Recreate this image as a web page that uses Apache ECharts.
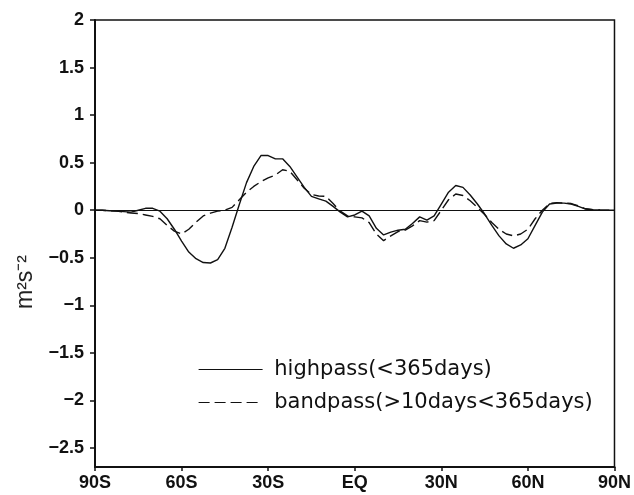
<!DOCTYPE html>
<html>
<head>
<meta charset="utf-8">
<script src="https://cdn.jsdelivr.net/npm/echarts@6/dist/echarts.min.js"></script>
<style>
  html, body { margin: 0; padding: 0; background: #fff; }
  #chart { width: 634px; height: 495px; }
</style>
</head>
<body>
<div id="chart"></div>
<script>
/* ── Data ── */
var lats = [-90,-87.5,-85,-82.5,-80,-77.5,-75,-72.5,-70,-67.5,-65,-62.5,-60,-57.5,-55,-52.5,-50,-47.5,-45,-42.5,
  -40,-37.5,-35,-32.5,-30,-27.5,-25,-22.5,-20,-17.5,-15,-12.5,-10,-7.5,-5,-2.5,0,2.5,5,7.5,10,12.5,15,17.5,20,
  22.5,25,27.5,30,32.5,35,37.5,40,42.5,45,47.5,50,52.5,55,57.5,60,62.5,65,67.5,70,72.5,75,77.5,80,82.5,85,87.5,90];

var highpass = [0,0,-0.005,-0.01,-0.015,-0.02,0,0.02,0.02,-0.01,-0.09,-0.2,-0.325,-0.44,-0.51,-0.55,-0.555,-0.52,-0.4,-0.18,
  0.06,0.29,0.46,0.575,0.575,0.54,0.54,0.46,0.35,0.24,0.145,0.12,0.095,0.04,-0.02,-0.07,-0.05,-0.01,-0.06,-0.19,-0.26,
  -0.23,-0.21,-0.2,-0.14,-0.07,-0.105,-0.06,0.065,0.19,0.26,0.24,0.16,0.065,-0.04,-0.16,-0.27,-0.355,-0.4,-0.365,-0.3,
  -0.16,-0.02,0.065,0.075,0.075,0.065,0.04,0.012,0.005,0.002,0,0];

var bandpass = [0,0,-0.005,-0.01,-0.02,-0.03,-0.035,-0.05,-0.065,-0.09,-0.16,-0.22,-0.25,-0.2,-0.125,-0.06,-0.03,-0.01,0,0.03,
  0.11,0.19,0.25,0.3,0.34,0.37,0.425,0.41,0.32,0.23,0.165,0.15,0.145,0.07,-0.01,-0.06,-0.07,-0.08,-0.13,-0.25,-0.32,
  -0.27,-0.225,-0.21,-0.165,-0.11,-0.125,-0.11,0,0.11,0.17,0.155,0.1,0.03,-0.045,-0.13,-0.2,-0.25,-0.27,-0.25,-0.2,
  -0.09,0,0.07,0.08,0.075,0.07,0.045,0.015,0.005,0.002,0,0];

var xTicks = [-90,-60,-30,0,30,60,90];
var xTickLabels = ['90S','60S','30S','EQ','30N','60N','90N'];
var yTicks = [-2.5,-2,-1.5,-1,-0.5,0,0.5,1,1.5,2];
var seriesNames = ['highpass(<365days)', 'bandpass(>10days<365days)'];

function pairs(vals) {
  return lats.map(function(lat, i) { return [lat, vals[i]]; });
}

var ink = '#111';
var chart = echarts.init(document.getElementById('chart'), null, { renderer: 'canvas' });

chart.setOption({
  backgroundColor: '#fff',
  animation: false,
  grid: { left: 95, right: 17, top: 20, bottom: 28, show: true, borderColor: ink, borderWidth: 1.5, backgroundColor: 'transparent' },
  legend: {
    show: true,
    orient: 'vertical', left: 198, top: 359, padding: 0,
    itemWidth: 64, itemHeight: 14, itemGap: 12,
    itemStyle: { opacity: 0 },
    lineStyle: { width: 1.2 },
    textStyle: { fontFamily: 'DejaVu Sans', fontSize: 21, color: ink },
    formatter: function(name) { return ' ' + name; },
    data: seriesNames
  },
  xAxis: {
    type: 'value', min: -90, max: 90, interval: 30,
    axisLine: { onZero: false, lineStyle: { color: ink, width: 2 } },
    axisTick: { inside: false, length: 4, lineStyle: { color: ink, width: 1.5 } },
    axisLabel: {
      margin: 7, color: ink, fontSize: 18, fontWeight: 'bold', fontFamily: 'Liberation Sans',
      formatter: function(v) { var i = xTicks.indexOf(v); return i >= 0 ? xTickLabels[i] : ''; }
    },
    splitLine: { show: false }
  },
  yAxis: {
    type: 'value', min: -2.7, max: 2,
    axisLine: { show: true, onZero: false, lineStyle: { color: ink, width: 2 } },
    axisTick: { show: true, inside: false, length: 5, customValues: yTicks, lineStyle: { color: ink, width: 1.5 } },
    axisLabel: {
      margin: 11, color: ink, fontSize: 18, fontWeight: 'bold', fontFamily: 'Liberation Sans',
      customValues: yTicks,
      formatter: function(v) { return String(v).replace('-', '\u2212'); }
    },
    splitLine: { show: false }
  },
  graphic: [{
    type: 'text', x: 26, y: 282, rotation: Math.PI / 2,
    style: { text: 'm\u00b2s\u207b\u00b2', fontSize: 23, fontFamily: 'Liberation Sans', fill: '#222', align: 'center', verticalAlign: 'middle' }
  }],
  series: [
    {
      name: seriesNames[0], type: 'line', data: pairs(highpass), symbol: 'none', smooth: false,
      itemStyle: { color: ink },
      lineStyle: { color: ink, width: 1.4, type: 'solid' },
      markLine: {
        silent: true, symbol: 'none', label: { show: false },
        lineStyle: { color: ink, width: 1.2, type: 'solid' },
        data: [{ yAxis: 0 }]
      }
    },
    {
      name: seriesNames[1], type: 'line', data: pairs(bandpass), symbol: 'none', smooth: false,
      itemStyle: { color: ink },
      lineStyle: { color: ink, width: 1.4, type: [11, 5] }
    }
  ]
});
</script>
</body>
</html>
